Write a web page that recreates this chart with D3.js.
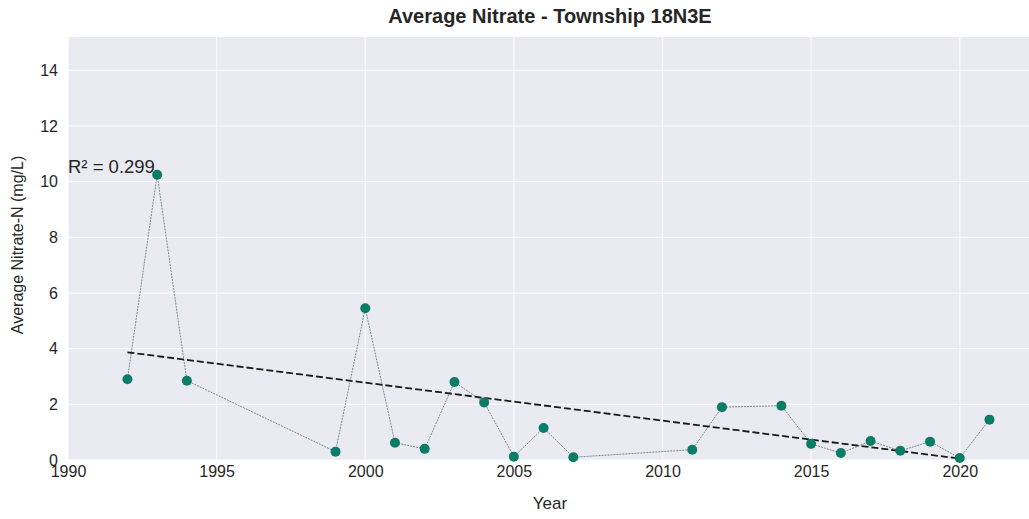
<!DOCTYPE html>
<html>
<head>
<meta charset="utf-8">
<script src="https://cdn.jsdelivr.net/npm/d3@7"></script>
<style>
  body { margin: 0; background: #fff; }
  text { font-family: "Liberation Sans", Arial, sans-serif; fill: #262626; }
</style>
</head>
<body>
<div class="chart"></div>
<script>
// data
var years = [1992, 1993, 1994, 1999, 2000, 2001, 2002, 2003, 2004, 2005, 2006, 2007,
             2011, 2012, 2014, 2015, 2016, 2017, 2018, 2019, 2020, 2021];
var nitrate = [2.9, 10.25, 2.85, 0.3, 5.45, 0.62, 0.4, 2.8, 2.07, 0.12, 1.15, 0.1,
               0.37, 1.9, 1.95, 0.58, 0.25, 0.68, 0.33, 0.66, 0.07, 1.45];
// fitted trend line end points
var trendYears = [1992, 2020];
var trendValues = [3.87, 0.05];
var xTicks = [1990, 1995, 2000, 2005, 2010, 2015, 2020];
var yTicks = [0, 2, 4, 6, 8, 10, 12, 14];
var rSquared = "R\u00b2 = 0.299";

var svgWidth = 1029;
var svgHeight = 519;

var margin = {
  top: 37,
  right: 0,
  bottom: 59,
  left: 68
};

var width = svgWidth - margin.left - margin.right;
var height = svgHeight - margin.top - margin.bottom;

var svg = d3
  .select(".chart")
  .append("svg")
  .attr("width", svgWidth)
  .attr("height", svgHeight);

var chartGroup = svg.append("g")
  .attr("transform", `translate(${margin.left}, ${margin.top})`);

var xScale = d3.scaleLinear()
  .domain([1990, 2022.33])
  .range([0, width]);

var yScale = d3.scaleLinear()
  .domain([0, 15.2])
  .range([height, 0]);

// plot background
chartGroup.append("rect")
  .attr("width", width)
  .attr("height", height)
  .attr("fill", "#eaeaf2");

// grid lines
chartGroup.selectAll(".hgrid")
  .data(yTicks)
  .enter()
  .append("line")
  .attr("x1", 0)
  .attr("x2", width)
  .attr("y1", d => yScale(d))
  .attr("y2", d => yScale(d))
  .attr("stroke", "#fff")
  .attr("stroke-opacity", 0.75)
  .attr("stroke-width", 1.2);

chartGroup.selectAll(".vgrid")
  .data(xTicks)
  .enter()
  .append("line")
  .attr("x1", d => xScale(d))
  .attr("x2", d => xScale(d))
  .attr("y1", 0)
  .attr("y2", height)
  .attr("stroke", "#fff")
  .attr("stroke-opacity", 0.75)
  .attr("stroke-width", 1.2);

// axes
var bottomAxis = d3.axisBottom(xScale)
  .tickValues(xTicks)
  .tickFormat(d3.format("d"))
  .tickSize(0)
  .tickPadding(6);

var leftAxis = d3.axisLeft(yScale)
  .tickValues(yTicks)
  .tickFormat(d3.format("d"))
  .tickSize(0)
  .tickPadding(10);

var xAxis = chartGroup.append("g")
  .attr("transform", `translate(0, ${height})`)
  .call(bottomAxis);

var yAxis = chartGroup.append("g")
  .call(leftAxis);

[xAxis, yAxis].forEach(function(ax) {
  ax.select(".domain").remove();
  ax.selectAll("text")
    .attr("font-size", 16)
    .attr("font-family", null)
    .attr("fill", "#262626");
});

// connecting line
var line = d3.line()
  .x(d => xScale(d[0]))
  .y(d => yScale(d[1]));

var points = years.map((y, i) => [y, nitrate[i]]);

chartGroup.append("path")
  .datum(points)
  .attr("d", line)
  .attr("fill", "none")
  .attr("stroke", "#5a7470")
  .attr("stroke-width", 0.8)
  .attr("stroke-dasharray", "2,1");

// trend line
chartGroup.append("path")
  .datum(trendYears.map((y, i) => [y, trendValues[i]]))
  .attr("d", line)
  .attr("fill", "none")
  .attr("stroke", "#1a1a1a")
  .attr("stroke-width", 1.8)
  .attr("stroke-dasharray", "7,3");

// markers
chartGroup.selectAll("circle")
  .data(points)
  .enter()
  .append("circle")
  .attr("cx", d => xScale(d[0]))
  .attr("cy", d => yScale(d[1]))
  .attr("r", 5)
  .attr("fill", "#0b7d66");

// R squared note
chartGroup.append("text")
  .attr("x", 0)
  .attr("y", yScale(10.3))
  .attr("font-size", 18.5)
  .text(rSquared);

// title
svg.append("text")
  .attr("x", 550)
  .attr("y", 23)
  .attr("text-anchor", "middle")
  .attr("font-size", 20)
  .attr("font-weight", "bold")
  .text("Average Nitrate - Township 18N3E");

// axis labels
svg.append("text")
  .attr("x", 550)
  .attr("y", 509)
  .attr("text-anchor", "middle")
  .attr("font-size", 17)
  .text("Year");

svg.append("text")
  .attr("transform", "rotate(-90)")
  .attr("x", -245)
  .attr("y", 23)
  .attr("text-anchor", "middle")
  .attr("font-size", 16)
  .text("Average Nitrate-N (mg/L)");
</script>
</body>
</html>
